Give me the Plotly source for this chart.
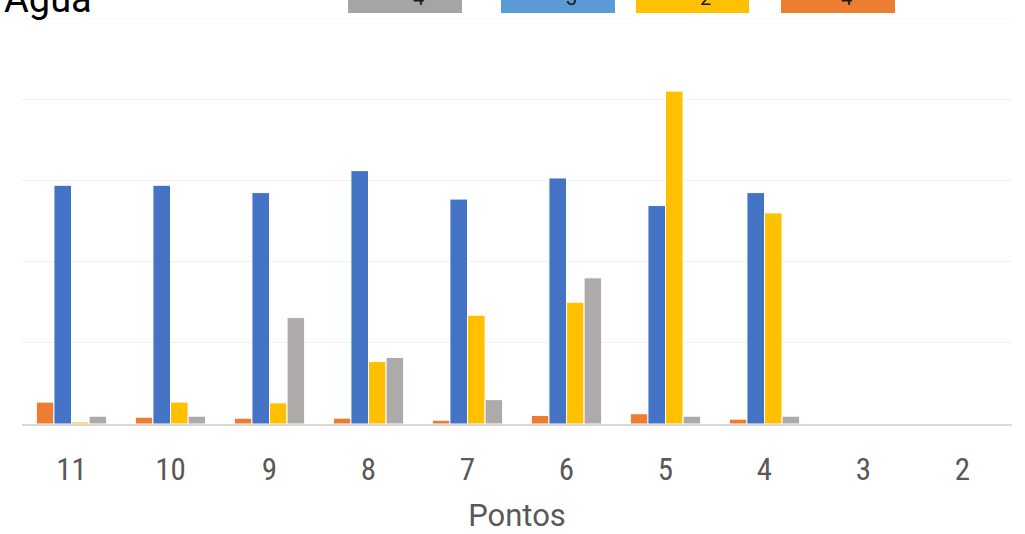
import plotly.graph_objects as go

# ---- data ----
categories = ["11", "10", "9", "8", "7", "6", "5", "4", "3", "2"]
orange_vals = [0.27, 0.084, 0.072, 0.072, 0.047, 0.105, 0.126, 0.06, 0, 0]
blue_vals = [2.94, 2.94, 2.85, 3.12, 2.77, 3.03, 2.69, 2.85, 0, 0]
yellow_vals = [0.025, 0.27, 0.26, 0.77, 1.34, 1.50, 4.10, 2.60, 0, 0]
gray_vals = [0.096, 0.096, 1.31, 0.82, 0.30, 1.80, 0.096, 0.096, 0, 0]

legend_labels = ["4", "3", "2", "4"]
title_text = "Água"
x_title = "Pontos"
y_max = 5

# ---- layout constants ----
W, H = 1025, 534
ML, MR, MT, MB = 22, 13, 18, 110
PW = W - ML - MR
PH = H - MT - MB


def px_x(px):
    return (px - ML) / PW


def px_y(py):
    return (H - MB - py) / PH


fig = go.Figure()
series = [
    (orange_vals, "#ED7D31"),
    (blue_vals, "#4472C4"),
    (yellow_vals, "#FFC000"),
    (gray_vals, "#AEAAAA"),
]
for vals, col in series:
    fig.add_trace(go.Bar(
        x=categories, y=vals,
        marker=dict(color=col, line=dict(color="white", width=1)),
        showlegend=False,
    ))

# legend-like boxes (cropped at the top)
boxes = [(348, 462, "#A5A5A5", 418), (501, 615, "#5B9BD5", 571),
         (636, 749, "#FFC000", 705), (781, 895, "#ED7D31", 846)]
shapes = [dict(type="line", xref="paper", yref="y", x0=0, x1=1, y0=y_max, y1=y_max,
               line=dict(color="#F0F0F0", width=1), layer="below")]
annotations = []
for (x0, x1, col, tx), lab in zip(boxes, legend_labels):
    shapes.append(dict(type="rect", xref="paper", yref="paper",
                       x0=px_x(x0), x1=px_x(x1), y0=px_y(13), y1=px_y(-10),
                       fillcolor=col, line=dict(width=0), layer="above"))
    annotations.append(dict(xref="paper", yref="paper", x=px_x(tx), y=px_y(-2),
                            text=lab, showarrow=False, xanchor="center", yanchor="middle",
                            font=dict(family="Roboto", size=20, color="#1a1a1a")))

annotations.append(dict(xref="paper", yref="paper", x=px_x(2), y=px_y(-1),
                        text=title_text, showarrow=False, xanchor="left", yanchor="middle",
                        font=dict(family="Roboto", size=38, color="#000000")))

fig.update_layout(
    width=W, height=H,
    margin=dict(l=ML, r=MR, t=MT, b=MB, autoexpand=False),
    paper_bgcolor="white", plot_bgcolor="white",
    barmode="group", bargap=0.29, bargroupgap=0,
    shapes=shapes, annotations=annotations,
    xaxis=dict(
        type="category",
        showline=True, linecolor="#D9D9D9", linewidth=2,
        showgrid=False, ticks="",
        tickfont=dict(family="Roboto Condensed, Roboto", size=31, color="#595959"),
        ticklabelstandoff=17,
        title=dict(text=x_title, standoff=17,
                   font=dict(family="Roboto", size=31, color="#595959")),
        automargin=False,
    ),
    yaxis=dict(
        range=[0, y_max], tickvals=[1, 2, 3, 4], showticklabels=False,
        showgrid=True, gridcolor="#F0F0F0", gridwidth=1,
        zeroline=False, ticks="", automargin=False,
    ),
)

fig.write_html("out.html")
